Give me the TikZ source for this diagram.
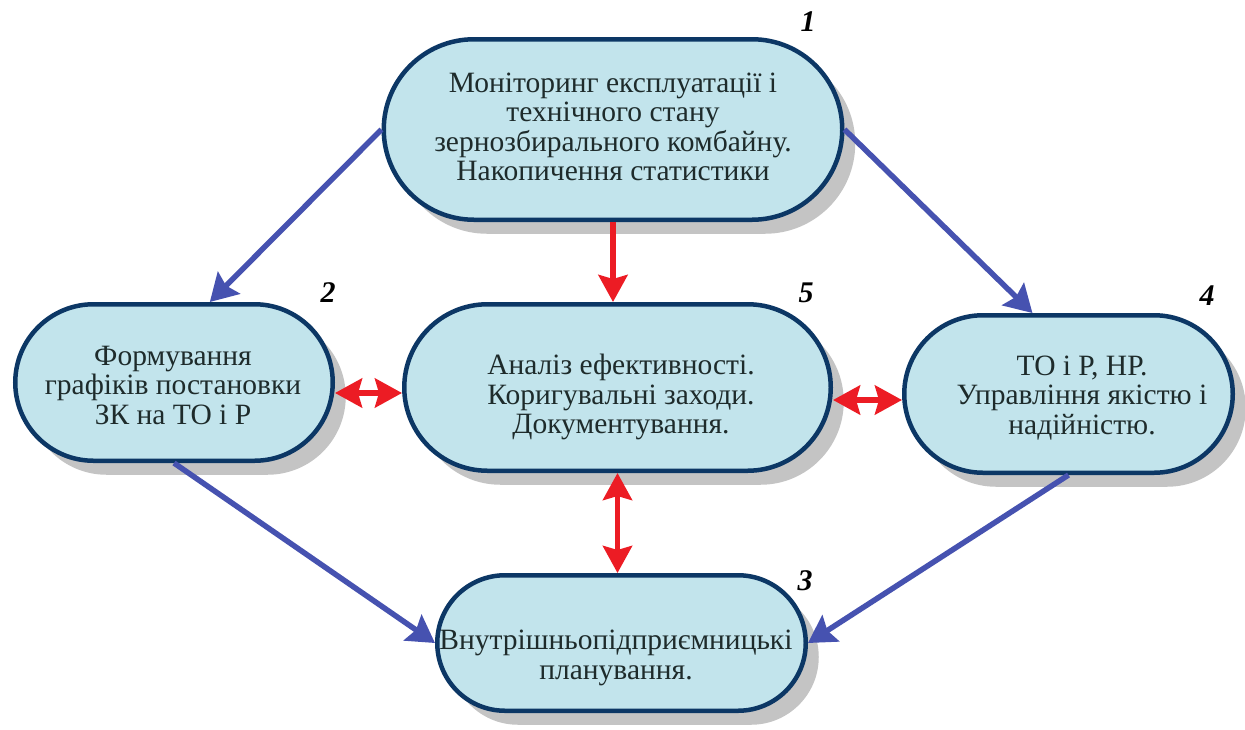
\documentclass[tikz,border=0pt]{standalone}
\usepackage{fontspec}
\setmainfont{Liberation Serif}
\usetikzlibrary{arrows.meta,shadows,calc}
\definecolor{boxfill}{HTML}{C2E4EC}
\definecolor{boxdraw}{HTML}{0C3765}
\definecolor{shadowgray}{HTML}{C4C4C4}
\definecolor{bluearr}{HTML}{4652B0}
\definecolor{redarr}{HTML}{EC1C24}
\definecolor{txt}{HTML}{1E2B2B}
\begin{document}
\begin{tikzpicture}[x=1pt,y=-1pt,
  stadium/.style={draw=boxdraw, line width=4.5pt, fill=boxfill, inner sep=0pt,
    drop shadow={shadow xshift=13pt, shadow yshift=-14pt, fill=shadowgray, opacity=1}},
  boxtext/.style={align=center, text=txt, inner sep=0pt, font=\fontsize{29.5}{29.5}\selectfont},
  numlabel/.style={inner sep=0pt, font=\fontsize{30}{30}\selectfont\bfseries\itshape},
  bluearrow/.style={draw=bluearr, line width=5.5pt, -{Stealth[length=27pt,width=31pt,inset=4pt]}},
  redarrow/.style={draw=redarr, line width=5.5pt, {Stealth[length=27pt,width=29pt,inset=4pt]}-{Stealth[length=27pt,width=29pt,inset=4pt]}},
  redone/.style={draw=redarr, line width=5.5pt, -{Stealth[length=27pt,width=29pt,inset=4pt]}}
]
\useasboundingbox (0,0) rectangle (1245,729);
\fill[white] (0,0) rectangle (1245,729);

% boxes
\node[stadium, minimum width=458.5pt, minimum height=180.5pt, rounded corners=90.25pt] (n1) at (613,129.5) {};
\node[stadium, minimum width=317.5pt, minimum height=156.5pt, rounded corners=78.25pt] (n2) at (174,382.5) {};
\node[stadium, minimum width=426.5pt, minimum height=166.5pt, rounded corners=83.25pt] (n5) at (617.5,387.5) {};
\node[stadium, minimum width=328.5pt, minimum height=157.5pt, rounded corners=78.75pt] (n4) at (1068.5,394) {};
\node[stadium, minimum width=368.5pt, minimum height=135.5pt, rounded corners=67.75pt] (n3) at (621.5,643) {};

% texts
\node[boxtext] (t1) at (613,127) {Моніторинг експлуатації і\\технічного стану\\зернозбирального комбайну.\\Накопичення статистики};
\node[boxtext] (t2) at (173,385) {Формування\\графіків постановки\\ЗК на ТО і Р};
\node[boxtext] (t5) at (621,397) {Аналіз ефективності.\\Коригувальні заходи.\\Документування.};
\node[boxtext] (t4) at (1082,398) {ТО і Р, НР.\\Управління якістю і\\надійністю.};
\node[boxtext] (t3) at (616,658) {Внутрішньопідприємницькі\\планування.};

% numbers
\node[numlabel] (l1) at (808,22) {1};
\node[numlabel] (l2) at (328,293) {2};
\node[numlabel] (l5) at (806,293) {5};
\node[numlabel] (l4) at (1207,296) {4};
\node[numlabel] (l3) at (805,581) {3};

% connectors
\coordinate (ry1) at (0,393);
\coordinate (ry2) at (0,400);
\draw[bluearrow] (n1.west) -- (n2.66);
\draw[bluearrow] (n1.east) -- (n4.114);
\draw[bluearrow] (n2.south) -- (n3.west);
\draw[bluearrow] (n4.south) -- (n3.east);
\draw[redone] (n1.south) -- (n1.south |- n5.north);
\draw[redarrow] (n2.east |- ry1) -- (n5.west |- ry1);
\draw[redarrow] (n5.east |- ry2) -- (n4.west |- ry2);
\draw[redarrow] (n5.south) -- (n5.south |- n3.north);
\end{tikzpicture}
\end{document}
